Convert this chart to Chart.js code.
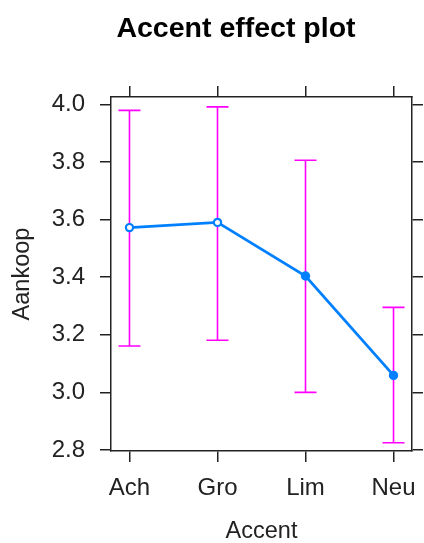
<!DOCTYPE html>
<html>
<head>
<meta charset="utf-8">
<script src="https://cdn.jsdelivr.net/npm/chart.js@4/dist/chart.umd.min.js"></script>
<style>
  html, body { margin: 0; padding: 0; background: #fff; }
  canvas { display: block; }
</style>
</head>
<body>
<canvas id="plot" width="424" height="543"></canvas>
<script>
// effect of Accent on Aankoop, with confidence limits
const categories = ['Ach', 'Gro', 'Lim', 'Neu'];
const fitValues = [3.572, 3.590, 3.404, 3.059];
const lowerValues = [3.161, 3.181, 3.000, 2.825];
const upperValues = [3.979, 3.991, 3.806, 3.295];
const yTicks = [2.8, 3.0, 3.2, 3.4, 3.6, 3.8, 4.0];
const plotTitle = 'Accent effect plot';

const FONT = 'Liberation Sans, Arial, sans-serif';
const INK = '#222';
const BLUE = '#0080ff';

// magenta whiskers under the fitted line
const errorBars = {
  id: 'errorBars',
  beforeDatasetsDraw(chart) {
    const { ctx, scales: { x, y } } = chart;
    ctx.save();
    ctx.strokeStyle = '#ff00ff';
    ctx.lineWidth = 1.6;
    categories.forEach((c, i) => {
      const px = x.getPixelForValue(i);
      const top = y.getPixelForValue(upperValues[i]);
      const bot = y.getPixelForValue(lowerValues[i]);
      ctx.beginPath();
      ctx.moveTo(px, top); ctx.lineTo(px, bot);
      ctx.moveTo(px - 11, top); ctx.lineTo(px + 11, top);
      ctx.moveTo(px - 11, bot); ctx.lineTo(px + 11, bot);
      ctx.stroke();
    });
    ctx.restore();
  }
};

// heading sits a bit right of the canvas centre, like lattice's main title
const heading = {
  id: 'heading',
  afterDraw(chart) {
    const ctx = chart.ctx;
    ctx.save();
    ctx.fillStyle = '#000';
    ctx.font = 'bold 28.5px ' + FONT;
    ctx.textAlign = 'center';
    ctx.textBaseline = 'alphabetic';
    ctx.fillText(plotTitle, 236, 37);
    ctx.restore();
  }
};

const xRange = { min: -0.21, max: 3.21 };
const yRange = { min: 2.7965, max: 4.0253 };

function catTicks(scale) {
  scale.ticks = categories.map((c, i) => ({ value: i }));
}
function valTicks(scale) {
  scale.ticks = yTicks.map(v => ({ value: v }));
}
function fitHeight(h) {
  return s => { s.height = h; s.paddingLeft = 0; s.paddingRight = 0; };
}
function fitWidth(w) {
  return s => { s.width = w; s.paddingTop = 0; s.paddingBottom = 0; };
}

const frame = { display: true, color: INK, width: 1.5 };
const tickMarks = { drawOnChartArea: false, drawTicks: true, tickLength: 11, color: INK, lineWidth: 1.5 };

new Chart(document.getElementById('plot'), {
  type: 'line',
  data: {
    datasets: [{
      data: categories.map((c, i) => ({ x: i, y: fitValues[i] })),
      borderColor: BLUE,
      borderWidth: 2.8,
      tension: 0,
      pointRadius: 3.6,
      pointBorderWidth: 2.2,
      pointBackgroundColor: ['#ffffff', '#ffffff', BLUE, BLUE],
      pointBorderColor: BLUE
    }]
  },
  options: {
    responsive: false,
    animation: false,
    layout: { padding: { top: 86, left: 0, right: 0, bottom: 0 } },
    plugins: {
      legend: { display: false },
      tooltip: { enabled: false },
      title: { display: false }
    },
    scales: {
      x: {
        type: 'linear', position: 'bottom', ...xRange,
        afterBuildTicks: catTicks,
        afterFit: fitHeight(92),
        border: frame,
        grid: tickMarks,
        ticks: {
          padding: 12,
          maxRotation: 0,
          color: INK,
          font: { family: FONT, size: 24 },
          callback: v => categories[v]
        },
        title: {
          display: true, text: 'Accent', color: INK,
          font: { family: FONT, size: 23.5, lineHeight: 1 },
          padding: { top: 0, bottom: 0 }
        }
      },
      x2: {
        type: 'linear', position: 'top', ...xRange,
        afterBuildTicks: catTicks,
        afterFit: fitHeight(11),
        border: frame,
        grid: tickMarks,
        ticks: { display: false }
      },
      y: {
        type: 'linear', position: 'left', ...yRange,
        afterBuildTicks: valTicks,
        afterFit: fitWidth(111),
        border: frame,
        grid: tickMarks,
        ticks: {
          padding: 15,
          color: INK,
          font: { family: FONT, size: 24 },
          callback: v => Number(v).toFixed(1)
        },
        title: {
          display: true, text: 'Aankoop', color: INK,
          font: { family: FONT, size: 23.5 },
          padding: { top: 8, bottom: 0 }
        }
      },
      y2: {
        type: 'linear', position: 'right', ...yRange,
        afterBuildTicks: valTicks,
        afterFit: fitWidth(12),
        border: frame,
        grid: tickMarks,
        ticks: { display: false }
      }
    }
  },
  plugins: [errorBars, heading]
});
</script>
</body>
</html>
